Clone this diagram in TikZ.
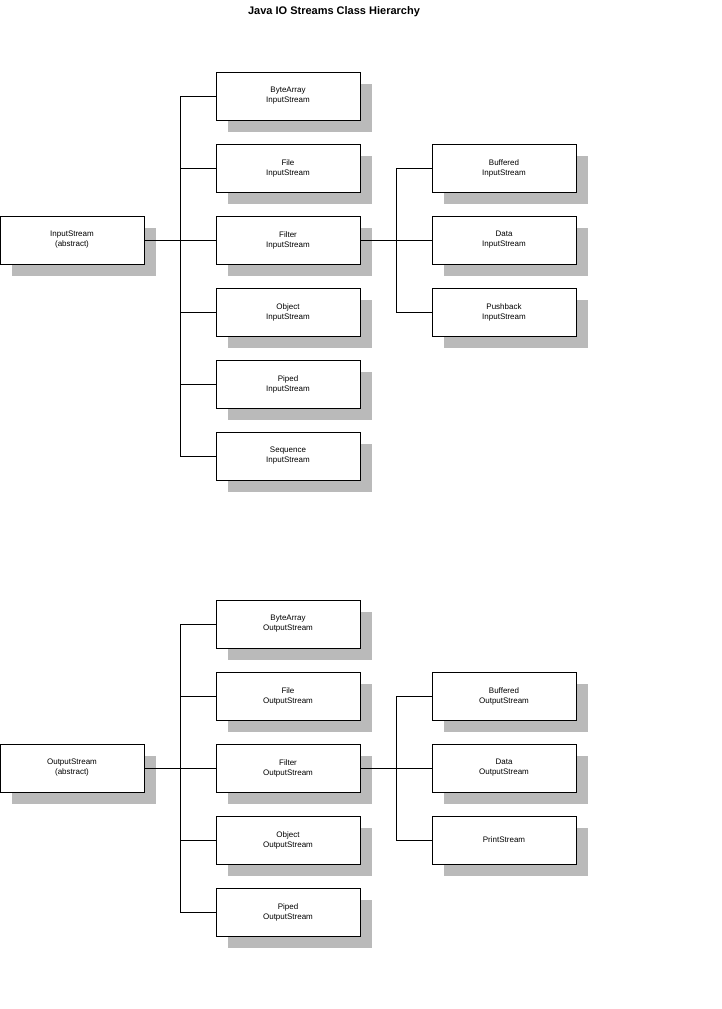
\documentclass[tikz,border=0pt]{standalone}
\usepackage{fontspec}
\setmainfont{Liberation Sans}
\usetikzlibrary{shadows}

\begin{document}
\begin{tikzpicture}[x=1pt,y=-1pt,
  cls/.style={draw,thin,fill=white,minimum width=144pt,minimum height=48pt,
    align=center,inner sep=0pt,font=\fontsize{8}{10}\selectfont,
    drop shadow={shadow xshift=12pt,shadow yshift=-12pt,fill=black!27,opacity=1}},
  wire/.style={draw,thin}]
  \useasboundingbox (0,0) rectangle (721,1009);

  % Title
  \node (title) at (334,12) {\fontsize{11}{13}\selectfont\bfseries Java IO Streams Class Hierarchy};

  % Input streams
  \node[cls] (in) at (72,240) {InputStream\\(abstract)};
  \coordinate (intrunk) at (180,240);
  \foreach \n/\t [count=\i] in {bain/ByteArray,filein/File,filtin/Filter,objin/Object,pipin/Piped,seqin/Sequence}{
    \node[cls] (\n) at (288,24+72*\i) {\t\\InputStream};
    \coordinate (c\n) at (180,24+72*\i);
    \draw[wire] (\n.west) -- (c\n);
  }
  \draw[wire] (in.east) -- (intrunk);
  \draw[wire] (cbain) -- (cseqin);
  \coordinate (fintrunk) at (396,240);
  \draw[wire] (filtin.east) -- (fintrunk);
  \foreach \n/\t [count=\i] in {bufin/Buffered,datin/Data,pushin/Pushback}{
    \node[cls] (\n) at (504,96+72*\i) {\t\\InputStream};
    \coordinate (c\n) at (396,96+72*\i);
    \draw[wire] (\n.west) -- (c\n);
  }
  \draw[wire] (cbufin) -- (cpushin);

  % Output streams
  \node[cls] (out) at (72,768) {OutputStream\\(abstract)};
  \coordinate (outtrunk) at (180,768);
  \foreach \n/\t [count=\i] in {baout/ByteArray,fileout/File,filtout/Filter,objout/Object,pipout/Piped}{
    \node[cls] (\n) at (288,552+72*\i) {\t\\OutputStream};
    \coordinate (c\n) at (180,552+72*\i);
    \draw[wire] (\n.west) -- (c\n);
  }
  \draw[wire] (out.east) -- (outtrunk);
  \draw[wire] (cbaout) -- (cpipout);
  \coordinate (fouttrunk) at (396,768);
  \draw[wire] (filtout.east) -- (fouttrunk);
  \node[cls] (bufout) at (504,696) {Buffered\\OutputStream};
  \node[cls] (datout) at (504,768) {Data\\OutputStream};
  \node[cls] (prout) at (504,840) {PrintStream};
  \foreach \n in {bufout,datout,prout}
    \draw[wire] (\n.west) -- (\n.west -| fouttrunk);
  \draw[wire] (bufout.west -| fouttrunk) -- (prout.west -| fouttrunk);

\end{tikzpicture}
\end{document}
